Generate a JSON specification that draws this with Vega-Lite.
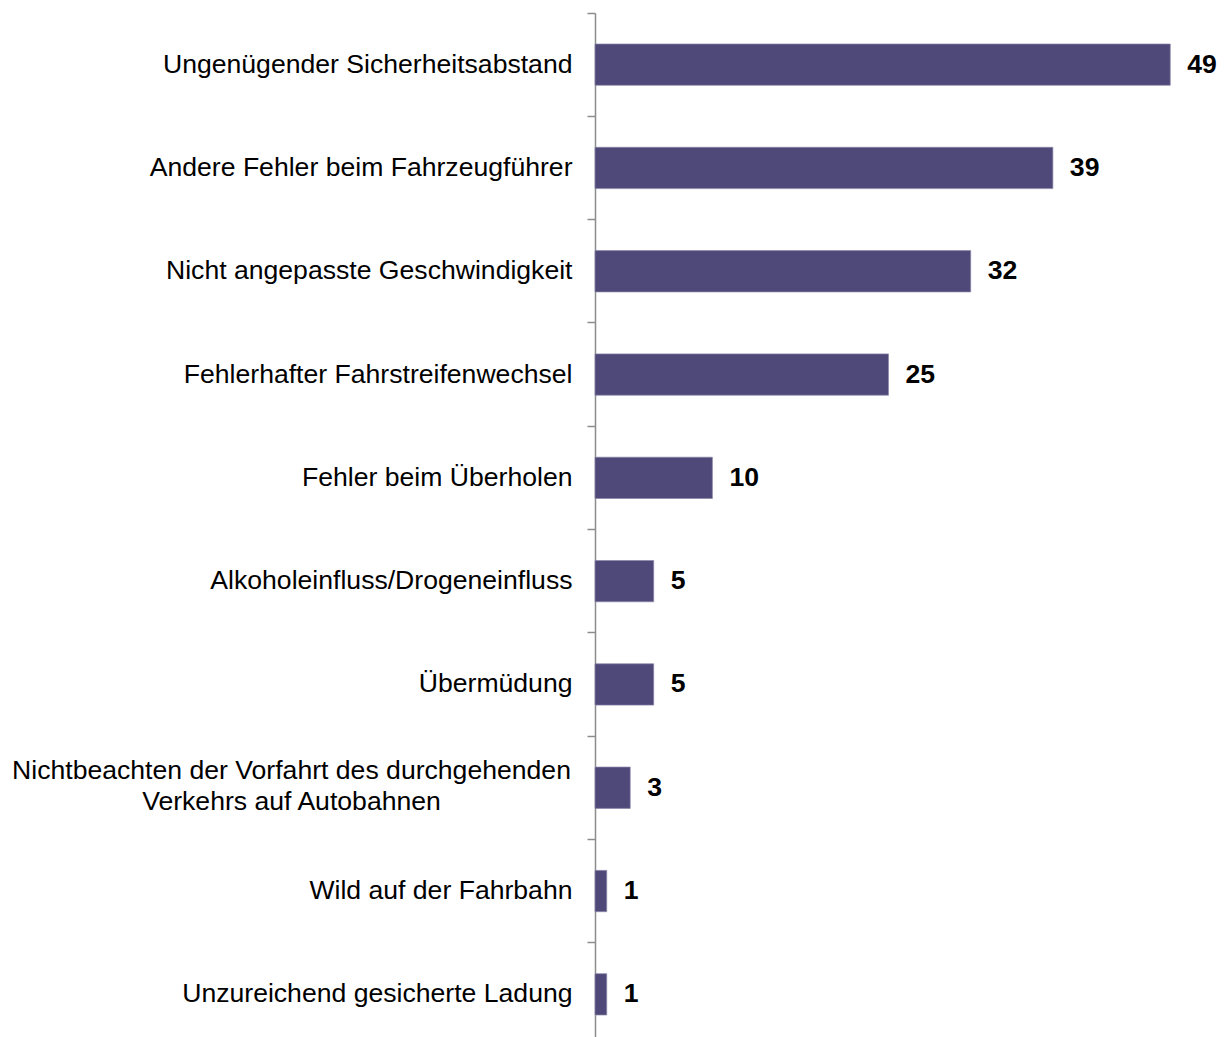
{
  "$schema": "https://vega.github.io/schema/vega-lite/v6.json",
  "autosize": {"type": "none"},
  "padding": {"left": 595, "top": 13, "right": 42, "bottom": -9},
  "width": 587,
  "height": 1033,
  "background": "white",
  "config": {"view": {"stroke": null}},
  "data": {
    "values": [
      {"cause": "Ungenügender Sicherheitsabstand", "value": 49},
      {"cause": "Andere Fehler beim Fahrzeugführer", "value": 39},
      {"cause": "Nicht angepasste Geschwindigkeit", "value": 32},
      {"cause": "Fehlerhafter Fahrstreifenwechsel", "value": 25},
      {"cause": "Fehler beim Überholen", "value": 10},
      {"cause": "Alkoholeinfluss/Drogeneinfluss", "value": 5},
      {"cause": "Übermüdung", "value": 5},
      {"cause": "Nichtbeachten der Vorfahrt des durchgehenden|Verkehrs auf Autobahnen", "value": 3},
      {"cause": "Wild auf der Fahrbahn", "value": 1},
      {"cause": "Unzureichend gesicherte Ladung", "value": 1}
    ]
  },
  "encoding": {
    "y": {
      "field": "cause",
      "type": "nominal",
      "sort": null,
      "title": null,
      "scale": {"paddingInner": 0.6, "paddingOuter": 0.3},
      "axis": {
        "labelExpr": "split(datum.label, '|')",
        "labelFont": "Liberation Sans",
        "labelFontSize": 26.6,
        "labelColor": "#000000",
        "labelLimit": 0,
        "labelLineHeight": 31,
        "labelAlign": {"condition": {"test": "indexof(datum.value, '|') >= 0", "value": "center"}, "value": "right"},
        "labelPadding": {"condition": {"test": "indexof(datum.value, '|') >= 0", "value": 296}, "value": 15},
        "labelOffset": {"condition": {"test": "indexof(datum.value, '|') >= 0", "value": -17}, "value": 0},
        "tickSize": 8,
        "bandPosition": -0.75,
        "tickColor": "#8c8c8c",
        "tickWidth": 1.5,
        "domainColor": "#8c8c8c",
        "domainWidth": 1.5,
        "grid": false
      }
    },
    "x": {
      "field": "value",
      "type": "quantitative",
      "scale": {"domain": [0, 50], "nice": false},
      "axis": null
    }
  },
  "layer": [
    {
      "mark": {"type": "bar", "color": "#4f497a", "stroke": "#8a86a8", "strokeWidth": 0.7}
    },
    {
      "mark": {
        "type": "text",
        "align": "left",
        "baseline": "middle",
        "dx": 17,
        "font": "Liberation Sans",
        "fontSize": 26.6,
        "fontWeight": "bold",
        "color": "#000000"
      },
      "encoding": {"text": {"field": "value", "type": "quantitative"}}
    }
  ]
}
